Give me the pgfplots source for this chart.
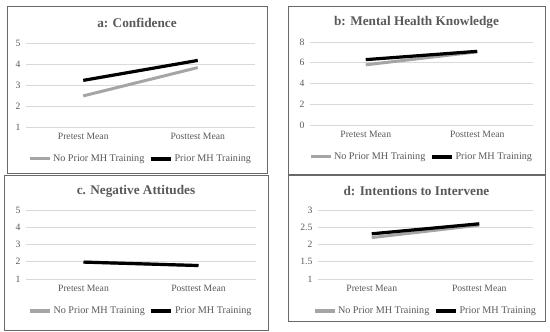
\documentclass[border=0pt]{standalone}
\usepackage{fontspec}
\setmainfont{Liberation Serif}
\usepackage{pgfplots}
\pgfplotsset{compat=1.18}
\definecolor{txt}{RGB}{89,89,89}
\definecolor{grd}{RGB}{217,217,217}
\definecolor{lg}{RGB}{165,165,165}
\definecolor{frm}{RGB}{105,105,105}
\pgfplotsset{panel/.style={
  scale only axis, anchor=south west,
  xmin=-0.5, xmax=1.5, xtick={0,1}, xticklabels={Pretest Mean,Posttest Mean},
  axis line style={draw=none}, ymajorgrids, grid style={grd, line width=0.8bp},
  major tick length=0pt,
  /pgf/number format/assume math mode=true,
  tick label style={font=\fontsize{9.7}{11}\selectfont, text=txt},
  xticklabel style={yshift=-2.5bp},
  yticklabel style={xshift=-2bp},
  legend columns=2,
  legend style={draw=none, fill=none, font=\fontsize{10.2}{12}\selectfont, text=txt,
    at={(0.5,0)}, anchor=center, yshift=-32bp,
    /tikz/every even column/.append style={column sep=3bp}},
  legend image code/.code={\draw[#1] (0bp,0bp) -- (20bp,0bp);},
  every axis plot/.append style={line cap=butt},
}}
\tikzset{ptitle/.style={font=\bfseries\fontsize{13.3}{15}\selectfont, text=txt, anchor=center}}
\begin{document}
\begin{tikzpicture}
\useasboundingbox (0bp,0bp) rectangle (550bp,332bp);
\draw[frm, line width=0.9bp] (7bp,159bp) rectangle (267bp,326bp);
\draw[frm, line width=0.9bp] (288bp,158bp) rectangle (545bp,326bp);
\draw[frm, line width=0.9bp] (4bp,2bp) rectangle (268bp,157bp);
\draw[frm, line width=0.9bp] (288bp,11bp) rectangle (545bp,157bp);

\begin{axis}[panel, at={(26bp,205bp)}, width=229bp, height=84bp,
  ymin=1, ymax=5, ytick={1,2,3,4,5}]
\addplot[lg, line width=3bp] coordinates {(0,2.48) (1,3.83)};
\addlegendentry{No Prior MH Training}
\addplot[black, line width=3.2bp] coordinates {(0,3.22) (1,4.17)};
\addlegendentry{Prior MH Training}
\end{axis}

\begin{axis}[panel, at={(310bp,207bp)}, width=223bp, height=83bp,
  ymin=0, ymax=8, ytick={0,2,4,6,8}]
\addplot[lg, line width=3bp] coordinates {(0,5.8) (1,7.05)};
\addlegendentry{No Prior MH Training}
\addplot[black, line width=3.2bp] coordinates {(0,6.3) (1,7.1)};
\addlegendentry{Prior MH Training}
\end{axis}

\begin{axis}[panel, at={(26bp,53bp)}, width=230bp, height=69bp,
  ymin=1, ymax=5, ytick={1,2,3,4,5}]
\addplot[lg, line width=3bp] coordinates {(0,1.98) (1,1.78)};
\addlegendentry{No Prior MH Training}
\addplot[black, line width=3.2bp] coordinates {(0,1.98) (1,1.78)};
\addlegendentry{Prior MH Training}
\end{axis}

\begin{axis}[panel, at={(318bp,53bp)}, width=215bp, height=69bp,
  ymin=1, ymax=3, ytick={1,1.5,2,2.5,3}]
\addplot[lg, line width=3bp] coordinates {(0,2.2) (1,2.56)};
\addlegendentry{No Prior MH Training}
\addplot[black, line width=3.2bp] coordinates {(0,2.31) (1,2.6)};
\addlegendentry{Prior MH Training}
\end{axis}

\node[ptitle] at (137bp,309bp) {a: Confidence};
\node[ptitle] at (416.5bp,310bp) {b: Mental Health Knowledge};
\node[ptitle] at (136bp,141bp) {c. Negative Attitudes};
\node[ptitle] at (416.5bp,141bp) {d: Intentions to Intervene};
\end{tikzpicture}
\end{document}
